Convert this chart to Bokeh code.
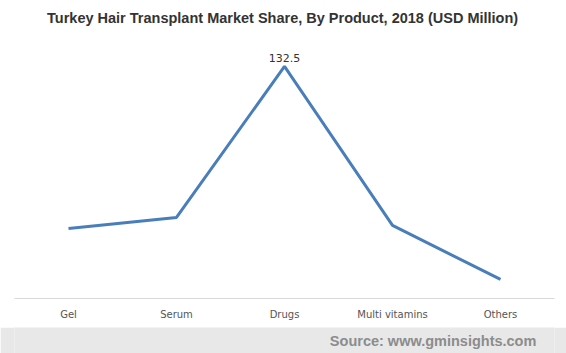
from bokeh.plotting import figure
from bokeh.models import FactorRange, Range1d, Label, ColumnDataSource, LabelSet
from bokeh.layouts import column
from bokeh.core.properties import value
from bokeh.embed import file_html
from bokeh.resources import INLINE

categories = ["Gel", "Serum", "Drugs", "Multi vitamins", "Others"]
values = [40.0, 46.3, 132.5, 41.7, 10.9]
label_text = ["", "", "132.5", "", ""]
title_text = "Turkey Hair Transplant Market Share, By Product, 2018 (USD Million)"
source_text = "Source: www.gminsights.com"

W = 566


def blank(h, bg):
    f = figure(width=W, height=h, output_backend="svg", toolbar_location=None,
               x_range=Range1d(0, W), y_range=Range1d(0, h),
               min_border=0)
    f.axis.visible = False
    f.grid.visible = False
    f.outline_line_color = None
    f.background_fill_color = bg
    f.border_fill_color = bg
    return f


top = blank(40, "white")
top.add_layout(Label(x=281, y=23, text=title_text,
                     text_align="center", text_baseline="middle",
                     text_font="Liberation Sans", text_font_size="14.5px",
                     text_font_style="bold", text_color="#333333"))

src = ColumnDataSource(dict(x=categories, y=values, t=label_text))

p = figure(width=W, height=287, output_backend="svg", toolbar_location=None,
           x_range=FactorRange(*categories, range_padding=0),
           y_range=Range1d(0, 147.3),
           min_border_left=14, min_border_right=12, min_border_top=0, min_border_bottom=29)
p.outline_line_color = None
p.xgrid.visible = False
p.ygrid.visible = False
p.yaxis.visible = False
p.background_fill_color = "white"
p.border_fill_color = "white"

p.line("x", "y", source=src, line_color="#4a7ebb", line_width=3)
p.add_layout(LabelSet(x="x", y="y", text="t", source=src, y_offset=4,
                      text_align="center", text_baseline="bottom",
                      text_font_size="11px", text_color="#333333",
                      text_font=value("DejaVu Sans")))

ax = p.xaxis[0]
ax.axis_line_color = "#d9d9d9"
ax.major_tick_line_color = None
ax.minor_tick_line_color = None
ax.major_label_text_font = "DejaVu Sans"
ax.major_label_text_font_size = "10px"
ax.major_label_text_color = "#555555"
ax.major_label_standoff = 4

bottom = blank(26, "#e8e8e8")
bottom.add_layout(Label(x=547, y=13, text=source_text,
                        text_align="right", text_baseline="middle",
                        text_font="Liberation Sans", text_font_size="14.5px",
                        text_font_style="bold", text_color="#8c8c8c"))

layout = column(top, p, bottom, spacing=0)
open("out.html", "w").write(file_html(layout, INLINE))
